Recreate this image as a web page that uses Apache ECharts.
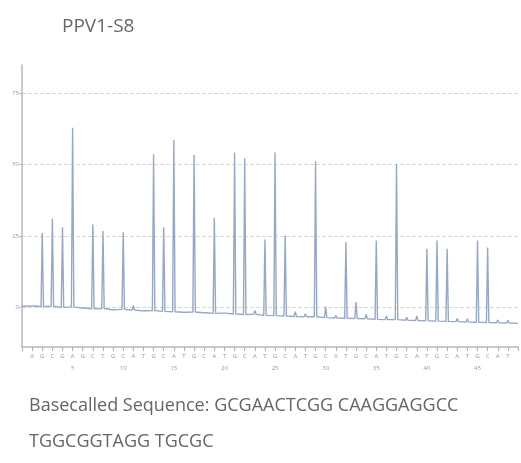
<!DOCTYPE html>
<html>
<head>
<meta charset="utf-8">
<script src="https://cdn.jsdelivr.net/npm/echarts@6/dist/echarts.min.js"></script>
<style>html,body{margin:0;padding:0;background:#fff;}#c{width:521px;height:463px;}</style>
</head>
<body>
<div id="c"></div>
<script>
// Dispensation (flow) order, flows 1..48
var flows = ['A','G','C','G','A','G','C','T','G','C','A','T',
             'G','C','A','T','G','C','A','T','G','C','A','T',
             'G','C','A','T','G','C','A','T','G','C','A','T',
             'G','C','A','T','G','C','A','T','G','C','A','T'];
// Signal value read at each flow's peak (flows 1..48)
var signal = [0.4, 26, 31, 28, 63, -0.3, 29, 26.7, -0.9, 26.3, 0.6, -1.3,
              53.7, 28, 58.7, -1.8, 53.4, -2.0, 31.4, -2.1, 54.3, 52.3, -1.2, 23.7,
              54.3, 25.2, -1.6, -2.3, 51.2, 0.2, -3.0, 22.8, 1.8, -2.6, 23.4, -3.1,
              50.2, -3.6, -3.2, 20.5, 23.4, 20.5, -4.0, -4.1, 23.4, 20.9, -4.5, -4.6];
// Baseline level read at each flow (flows 1..48)
var baseline = [0.4, 0.2, 0.3, -0.1, 0.1, -0.3, -0.6, -0.5, -0.9, -0.8, -1.0, -1.3,
                -1.2, -1.5, -1.6, -1.8, -1.7, -2.0, -2.2, -2.1, -2.4, -2.6, -2.5, -2.9,
                -3.0, -3.1, -3.3, -3.4, -3.4, -3.7, -3.8, -3.9, -4.0, -4.1, -4.3, -4.4,
                -4.4, -4.6, -4.7, -4.8, -4.9, -5.0, -5.1, -5.2, -5.3, -5.4, -5.5, -5.6];
var startLevel = 0.3, endLevel = -5.7;
var yTicks = [0, 25, 50, 75];
var titleText = 'PPV1-S8';
var seqLine1 = 'Basecalled Sequence: GCGAACTCGG CAAGGAGGCC';
var seqLine2 = 'TGGCGGTAGG TGCGC';

var data = [[0, startLevel]];
for (var i = 0; i < flows.length; i++) {
  var n = i + 1;
  data.push([n - 0.12, baseline[i]]);
  data.push([n, signal[i]]);
  data.push([n + 0.12, baseline[i]]);
}
data.push([flows.length + 1, endLevel]);

var chart = echarts.init(document.getElementById('c'), null, {renderer: 'canvas'});
chart.setOption({
  animation: false,
  title: {
    text: titleText, left: 57, top: 12,
    textStyle: {fontFamily: 'Open Sans', fontSize: 19, fontWeight: 'normal', color: '#666'}
  },
  grid: {left: 22, right: 0, top: 65, bottom: 116, containLabel: false},
  xAxis: {
    type: 'value', min: 0, max: flows.length + 1, interval: 1,
    axisLine: {onZero: false, lineStyle: {color: '#b8b8b8', width: 1.5}},
    axisTick: {show: true, length: 4, lineStyle: {color: '#b0b0b0'}},
    splitLine: {show: false},
    axisLabel: {
      fontSize: 6, color: '#999', fontFamily: 'Open Sans', lineHeight: 12, margin: 3,
      formatter: function (v) {
        if (v < 1 || v > flows.length) return '';
        return flows[v - 1] + '\n' + (v % 5 === 0 ? v : '');
      }
    }
  },
  yAxis: {
    type: 'value', min: -14, max: 85,
    axisLine: {show: true, lineStyle: {color: '#b8b8b8', width: 1.5}},
    axisTick: {show: true, length: 3, customValues: yTicks, lineStyle: {color: '#bbb'}},
    axisLabel: {fontSize: 6, color: '#999', margin: 3, customValues: yTicks, fontFamily: 'Open Sans'},
    splitLine: {show: true, lineStyle: {color: '#d8d8d8', type: 'dashed', width: 1}}
  },
  series: [{
    type: 'line', data: data, symbol: 'none', smooth: false,
    lineStyle: {color: '#96a8c9', width: 1.4},
    z: 3
  }],
  graphic: [
    {type: 'text', left: 29, top: 397, style: {text: seqLine1, fontFamily: 'Open Sans', fontSize: 18, fill: '#666'}},
    {type: 'text', left: 29, top: 433, style: {text: seqLine2, fontFamily: 'Open Sans', fontSize: 18, fill: '#666'}}
  ]
});
</script>
</body>
</html>
